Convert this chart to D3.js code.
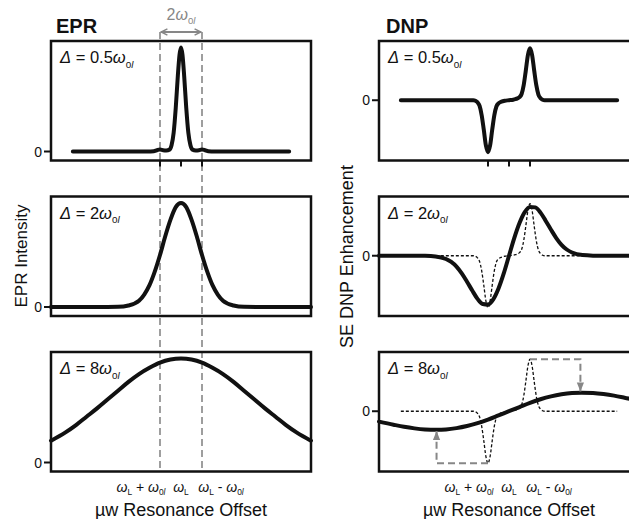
<!DOCTYPE html>
<html>
<head>
<meta charset="utf-8">
<script src="https://cdn.jsdelivr.net/npm/d3@7"></script>
<style>
body { margin: 0; background: #fff; }
svg { display: block; font-family: "Liberation Sans", Arial, sans-serif; white-space: pre; }
</style>
</head>
<body>
<svg></svg>
<script>
// offsets are in units of w0I, relative to wL (left tick = wL + w0I)
const eprNarrow = [[-5.15,0],[-3,0],[-1.6,0],[-1.3,0.003],[-1.15,0.012],[-1,0.02],[-0.85,0.012],[-0.7,0.01],[-0.55,0.018],[-0.45,0.06],[-0.35,0.18],[-0.25,0.42],[-0.15,0.73],[-0.07,0.93],[0,1],
    [0.07,0.93],[0.15,0.73],[0.25,0.42],[0.35,0.18],[0.45,0.06],[0.55,0.018],[0.7,0.01],[0.85,0.012],[1,0.02],[1.15,0.012],[1.3,0.003],[1.6,0],[3,0],[5.15,0]]
const eprMid = [[-6.19,0],[-4,0],[-3,0.002],[-2.5,0.015],[-2,0.06],[-1.75,0.12],[-1.5,0.21],[-1.25,0.34],[-1,0.5],[-0.75,0.68],[-0.5,0.84],[-0.25,0.96],[0,1],
    [0.25,0.96],[0.5,0.84],[0.75,0.68],[1,0.5],[1.25,0.34],[1.5,0.21],[1.75,0.12],[2,0.06],[2.5,0.015],[3,0.002],[4,0],[6.19,0]]
const eprWide = [[-6.19,0.21],[-5.5,0.29],[-5,0.36],[-4.5,0.44],[-4,0.52],[-3.5,0.605],[-3,0.69],[-2.5,0.775],[-2,0.85],[-1.5,0.91],[-1,0.96],[-0.5,0.99],[0,1],
    [0.5,0.99],[1,0.96],[1.5,0.91],[2,0.85],[2.5,0.775],[3,0.69],[3.5,0.605],[4,0.52],[4.5,0.44],[5,0.36],[5.5,0.29],[6.19,0.21]]

const dnpNarrow = [[-5.15,0],[-3,0],[-1.7,0],[-1.6,-0.01],[-1.5,-0.04],[-1.4,-0.11],[-1.3,-0.29],[-1.2,-0.57],[-1.1,-0.87],[-1,-1],[-0.9,-0.87],[-0.8,-0.57],[-0.7,-0.29],[-0.6,-0.12],[-0.5,-0.06],[-0.4,-0.035],[-0.3,-0.02],[-0.2,-0.01],[0,0],
    [0.2,0.01],[0.3,0.02],[0.4,0.035],[0.5,0.06],[0.6,0.12],[0.7,0.29],[0.8,0.57],[0.9,0.87],[1,1],[1.1,0.87],[1.2,0.57],[1.3,0.29],[1.4,0.11],[1.5,0.04],[1.6,0.01],[1.7,0],[3,0],[5.15,0]]
const dnpMid = [[-6.19,0],[-4.5,0],[-4,-0.002],[-3.5,-0.013],[-3,-0.063],[-2.75,-0.12],[-2.5,-0.21],[-2.25,-0.34],[-2,-0.5],[-1.75,-0.67],[-1.5,-0.83],[-1.25,-0.93],[-1,-0.94],[-0.75,-0.84],[-0.5,-0.63],[-0.25,-0.34],[0,0],
    [0.25,0.34],[0.5,0.63],[0.75,0.84],[1,0.94],[1.25,0.93],[1.5,0.83],[1.75,0.67],[2,0.5],[2.25,0.34],[2.5,0.21],[2.75,0.12],[3,0.063],[3.5,0.013],[4,0.002],[4.5,0],[6.19,0]]
const dnpWide = [[-6.19,-0.2],[-5.5,-0.26],[-5,-0.3],[-4.5,-0.33],[-4,-0.35],[-3.45,-0.357],[-3,-0.35],[-2.5,-0.325],[-2,-0.285],[-1.5,-0.23],[-1,-0.16],[-0.5,-0.08],[0,0],
    [0.5,0.08],[1,0.16],[1.5,0.23],[2,0.285],[2.5,0.325],[3,0.35],[3.45,0.357],[4,0.35],[4.5,0.33],[5,0.3],[5.5,0.26],[6.19,0.2]]

// gray dashed transfer arrows in the last DNP panel
const transferArrows = [
    [[-1,-1],[-3.45,-1],[-3.45,-0.38]],
    [[1,1],[3.4,1],[3.4,0.38]]
]

const deltaValues = ['0.5', '2', '8']
const eprSeries = [eprNarrow, eprMid, eprWide]
const dnpSeries = [dnpNarrow, dnpMid, dnpWide]
const dnpReference = [null, dnpNarrow, dnpNarrow]

const tickOffsets = [-1, 0, 1]
const tickLabels = [
    [['ω','i'],['L','s'],[' + ','n'],['ω','i'],['0','s'],['l','si']],
    [['ω','i'],['L','s']],
    [['ω','i'],['L','s'],[' - ','n'],['ω','i'],['0','s'],['l','si']]
]

const width = 629
const height = 519
const svg = d3.select('svg')
    .attr('width', width)
    .attr('height', height)

const panelTops = [41, 196.5, 352]
const panelH = 119.5
const panelW = 260
const gray = '#878787'

const xEpr = d3.scaleLinear().domain([-6.19, 6.19]).range([51, 51 + panelW])
const xDnp = d3.scaleLinear().domain([-6.19, 6.19]).range([379, 379 + panelW])

const defs = svg.append('defs')
defs.append('marker')
    .attr('id', 'chev')
    .attr('viewBox', '0 0 10 10')
    .attr('refX', 9).attr('refY', 5)
    .attr('markerWidth', 8).attr('markerHeight', 8)
    .attr('markerUnits', 'userSpaceOnUse')
    .attr('orient', 'auto-start-reverse')
  .append('path')
    .attr('d', 'M1,1 L9,5 L1,9')
    .attr('fill', 'none')
    .attr('stroke', gray)
    .attr('stroke-width', 1.8)
defs.append('marker')
    .attr('id', 'tri')
    .attr('viewBox', '0 0 10 10')
    .attr('refX', 10).attr('refY', 5)
    .attr('markerWidth', 9).attr('markerHeight', 9)
    .attr('markerUnits', 'userSpaceOnUse')
    .attr('orient', 'auto')
  .append('path')
    .attr('d', 'M0,1 L10,5 L0,9 z')
    .attr('fill', gray)

function richText(g, x, y, parts, size, anchor, fill) {
    const t = g.append('text')
        .attr('x', x).attr('y', y)
        .attr('font-size', size)
        .attr('text-anchor', anchor)
        .attr('fill', fill || '#111')
    let shifted = false
    parts.forEach(([str, style]) => {
        const sub = style.startsWith('s')
        const span = t.append('tspan').text(str)
        if (sub !== shifted) {
            span.attr('dy', sub ? size * 0.28 : -size * 0.28)
            shifted = sub
        }
        if (sub) span.attr('font-size', size * 0.6)
        if (style.endsWith('i')) span.attr('font-style', 'italic')
    })
    return t
}

function drawPanel(g, x, top, yDomain, series, reference, delta, isLast) {
    const y = d3.scaleLinear().domain(yDomain).range([top + panelH, top])
    const line = d3.line()
        .x(d => x(d[0]))
        .y(d => y(d[1]))
        .curve(d3.curveMonotoneX)

    const x0 = x.range()[0]

    g.append('rect')
        .attr('x', x0).attr('y', top)
        .attr('width', panelW).attr('height', panelH)
        .attr('fill', 'none')
        .attr('stroke', '#111')
        .attr('stroke-width', 2.5)

    // zero tick
    g.append('line')
        .attr('x1', x0 - 7).attr('x2', x0)
        .attr('y1', y(0)).attr('y2', y(0))
        .attr('stroke', '#111').attr('stroke-width', 2)
    g.append('text')
        .attr('x', x0 - 9).attr('y', y(0) + 5)
        .attr('text-anchor', 'end')
        .attr('font-size', 14)
        .attr('fill', '#111')
        .text('0')

    // offset ticks below the box
    g.selectAll('.tick')
        .data(tickOffsets)
        .enter().append('line')
        .attr('class', 'tick')
        .attr('x1', d => x(d)).attr('x2', d => x(d))
        .attr('y1', top + panelH).attr('y2', top + panelH + 6)
        .attr('stroke', '#111').attr('stroke-width', 2)

    if (reference) {
        g.append('path')
            .attr('d', line(reference))
            .attr('fill', 'none')
            .attr('stroke', '#111')
            .attr('stroke-width', 1.3)
            .attr('stroke-dasharray', '3,2')
    }

    g.append('path')
        .attr('d', line(series))
        .attr('fill', 'none')
        .attr('stroke', '#111')
        .attr('stroke-width', 4)
        .attr('stroke-linejoin', 'round')
        .attr('stroke-linecap', 'round')

    richText(g, x0 + 9, top + 22,
        [['Δ','i'], [' = ' + delta, 'n'], ['ω','i'], ['0','s'], ['l','si']], 16.5, 'start')

    if (isLast) {
        tickLabels.forEach((parts, i) => {
            const shift = tickOffsets[i] * 19
            richText(g, x(tickOffsets[i]) + shift, 491.5, parts, 14, 'middle')
        })
    }
    return y
}

const eprG = svg.append('g')
const dnpG = svg.append('g')

// gray guide lines at wL +/- w0I through the EPR column
eprG.selectAll('.guide')
    .data([-1, 1])
    .enter().append('line')
    .attr('class', 'guide')
    .attr('x1', d => xEpr(d)).attr('x2', d => xEpr(d))
    .attr('y1', 32).attr('y2', 472)
    .attr('stroke', gray)
    .attr('stroke-width', 1.6)
    .attr('stroke-dasharray', '7,4')

eprG.append('line')
    .attr('x1', xEpr(-1) + 1).attr('x2', xEpr(1) - 1)
    .attr('y1', 32).attr('y2', 32)
    .attr('stroke', gray)
    .attr('stroke-width', 1.8)
    .attr('marker-start', 'url(#chev)')
    .attr('marker-end', 'url(#chev)')

richText(eprG, xEpr(0), 20, [['2','n'], ['ω','i'], ['0','s'], ['l','si']], 16, 'middle', gray)

panelTops.forEach((top, i) => {
    drawPanel(eprG, xEpr, top, [-0.0865, 1.0625], eprSeries[i], null, deltaValues[i], i === 2)
    const yD = drawPanel(dnpG, xDnp, top, [-1.16, 1.14], dnpSeries[i], dnpReference[i], deltaValues[i], i === 2)
    if (i === 2) {
        const arrowLine = d3.line().x(d => xDnp(d[0])).y(d => yD(d[1]))
        dnpG.selectAll('.transfer')
            .data(transferArrows)
            .enter().append('path')
            .attr('class', 'transfer')
            .attr('d', d => arrowLine(d))
            .attr('fill', 'none')
            .attr('stroke', gray)
            .attr('stroke-width', 2)
            .attr('stroke-dasharray', '7,4')
            .attr('marker-end', 'url(#tri)')
    }
})

// titles and axis labels
svg.append('text')
    .attr('x', 56).attr('y', 33)
    .attr('font-size', 20).attr('font-weight', 'bold')
    .attr('fill', '#111')
    .text('EPR')
svg.append('text')
    .attr('x', 386).attr('y', 33)
    .attr('font-size', 20).attr('font-weight', 'bold')
    .attr('fill', '#111')
    .text('DNP')

svg.append('text')
    .attr('transform', 'translate(26.5,256) rotate(-90)')
    .attr('text-anchor', 'middle')
    .attr('font-size', 17)
    .attr('fill', '#111')
    .text('EPR Intensity')
svg.append('text')
    .attr('transform', 'translate(353,256.5) rotate(-90)')
    .attr('text-anchor', 'middle')
    .attr('font-size', 18)
    .attr('fill', '#111')
    .text('SE DNP Enhancement')

svg.selectAll('.xlabel')
    .data([xEpr(0), xDnp(0)])
    .enter().append('text')
    .attr('class', 'xlabel')
    .attr('x', d => d).attr('y', 516)
    .attr('text-anchor', 'middle')
    .attr('font-size', 18)
    .attr('fill', '#111')
    .text('µw Resonance Offset')
</script>
</body>
</html>
